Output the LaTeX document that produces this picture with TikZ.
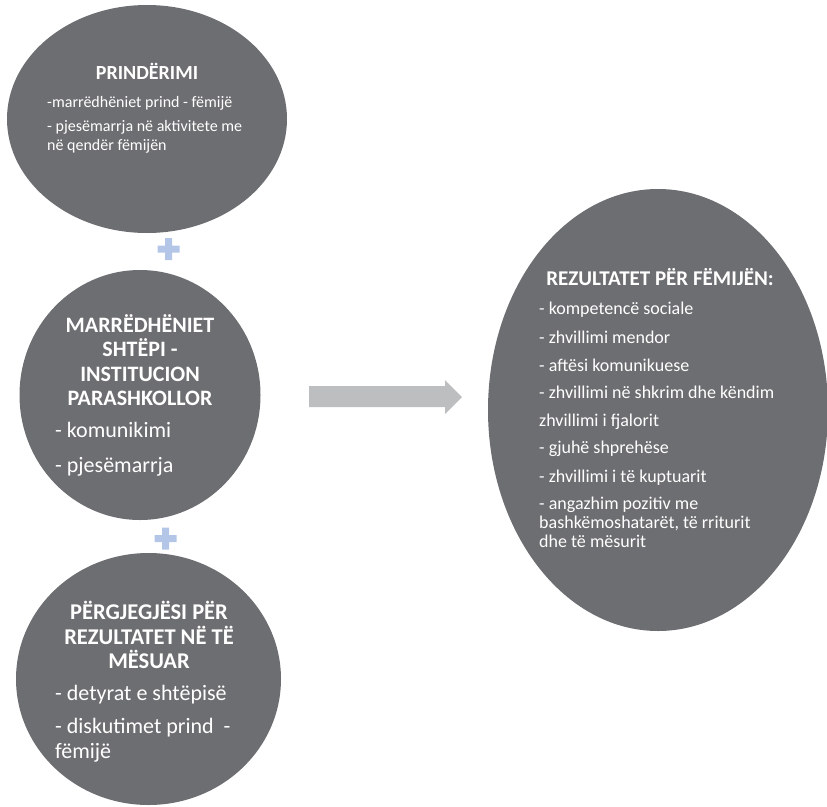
\documentclass[tikz,border=0pt]{standalone}
\usepackage{fontspec}
\setmainfont{Carlito}
\usetikzlibrary{shapes.geometric}
\definecolor{blobgray}{HTML}{6D6E71}
\definecolor{arrowgray}{HTML}{BCBEC0}
\definecolor{plusblue}{HTML}{B4C6E7}
\tikzset{
  blob/.style={ellipse, fill=blobgray, draw=none, inner sep=0pt},
  txt/.style={text=white, inner sep=0pt},
  ttl/.style={txt, anchor=base},
  lst/.style={txt, anchor=base west},
  tA/.style={ttl, font=\bfseries\fontsize{20}{24}\selectfont},
  bA/.style={lst, font=\fontsize{16}{19}\selectfont},
  tB/.style={ttl, font=\bfseries\fontsize{22}{26}\selectfont},
  tC/.style={ttl, font=\bfseries\fontsize{22.5}{26}\selectfont},
  bB/.style={lst, font=\fontsize{22}{26}\selectfont},
  tR/.style={ttl, font=\bfseries\fontsize{21}{24}\selectfont},
  bR/.style={lst, font=\fontsize{18}{21}\selectfont},
}
\begin{document}
\begin{tikzpicture}[x=1pt,y=-1pt]
\useasboundingbox (0,0) rectangle (827,806);
% blobs
\node[blob, minimum width=280pt, minimum height=228pt] (parent) at (147,119) {};
\node[blob, minimum width=241pt, minimum height=250pt] (home) at (140,395) {};
\node[blob, minimum width=265pt, minimum height=252pt] (resp) at (148.5,679) {};
\node[blob, minimum width=340pt, minimum height=442pt] (result) at (658,410) {};
% plus signs
\fill[plusblue] (157.5,245.5) rectangle (179.5,252.5) (165,238) rectangle (172,260);
\fill[plusblue] (154.5,535) rectangle (176.5,542) (162,527.5) rectangle (169,549.5);
% block arrow
\fill[arrowgray] (309,386) -- (445,386) -- (445,380) -- (462,397) -- (445,414) -- (445,407) -- (309,407) -- cycle;
% texts: parenting
\node[tA] (pt) at (147,79.5) {PRINDËRIMI};
\node[bA] (p1) at (47,107.5) {-marrëdhëniet prind - fëmijë};
\node[bA] (p2) at (47,131) {- pjesëmarrja në aktivitete me};
\node[bA] (p3) at (47,150) {në qendër fëmijën};
% home-institution
\node[tB] (h1) at (140,332) {MARRËDHËNIET};
\node[tB] (h2) at (140,356.5) {SHTËPI -};
\node[tB] (h3) at (140,381) {INSTITUCION};
\node[tB] (h4) at (140,405) {PARASHKOLLOR};
\node[bB] (h5) at (55,437) {- komunikimi};
\node[bB] (h6) at (55,472) {- pjesëmarrja};
% responsibility
\node[tC] (r1) at (149,619) {PËRGJEGJËSI PËR};
\node[tC] (r2) at (149,644) {REZULTATET NË TË};
\node[tC] (r3) at (149,668) {MËSUAR};
\node[bB] (r4) at (55,700) {- detyrat e shtëpisë};
\node[bB] (r5) at (55,733) {- diskutimet prind\ \ -};
\node[bB] (r6) at (55,758) {fëmijë};
% results
\node[tR] (c0) at (660,285) {REZULTATET PËR FËMIJËN:};
\node[bR] (c1) at (539,314) {- kompetencë sociale};
\node[bR] (c2) at (539,343) {- zhvillimi mendor};
\node[bR] (c3) at (539,371) {- aftësi komunikuese};
\node[bR] (c4) at (539,398) {- zhvillimi në shkrim dhe këndim};
\node[bR] (c5) at (539,426) {zhvillimi i fjalorit};
\node[bR] (c6) at (539,453) {- gjuhë shprehëse};
\node[bR] (c7) at (539,482) {- zhvillimi i të kuptuarit};
\node[bR] (c8) at (539,509) {- angazhim pozitiv me};
\node[bR] (c9) at (539,528) {bashkëmoshatarët, të rriturit};
\node[bR] (c10) at (539,547) {dhe të mësurit};
\end{tikzpicture}
\end{document}
